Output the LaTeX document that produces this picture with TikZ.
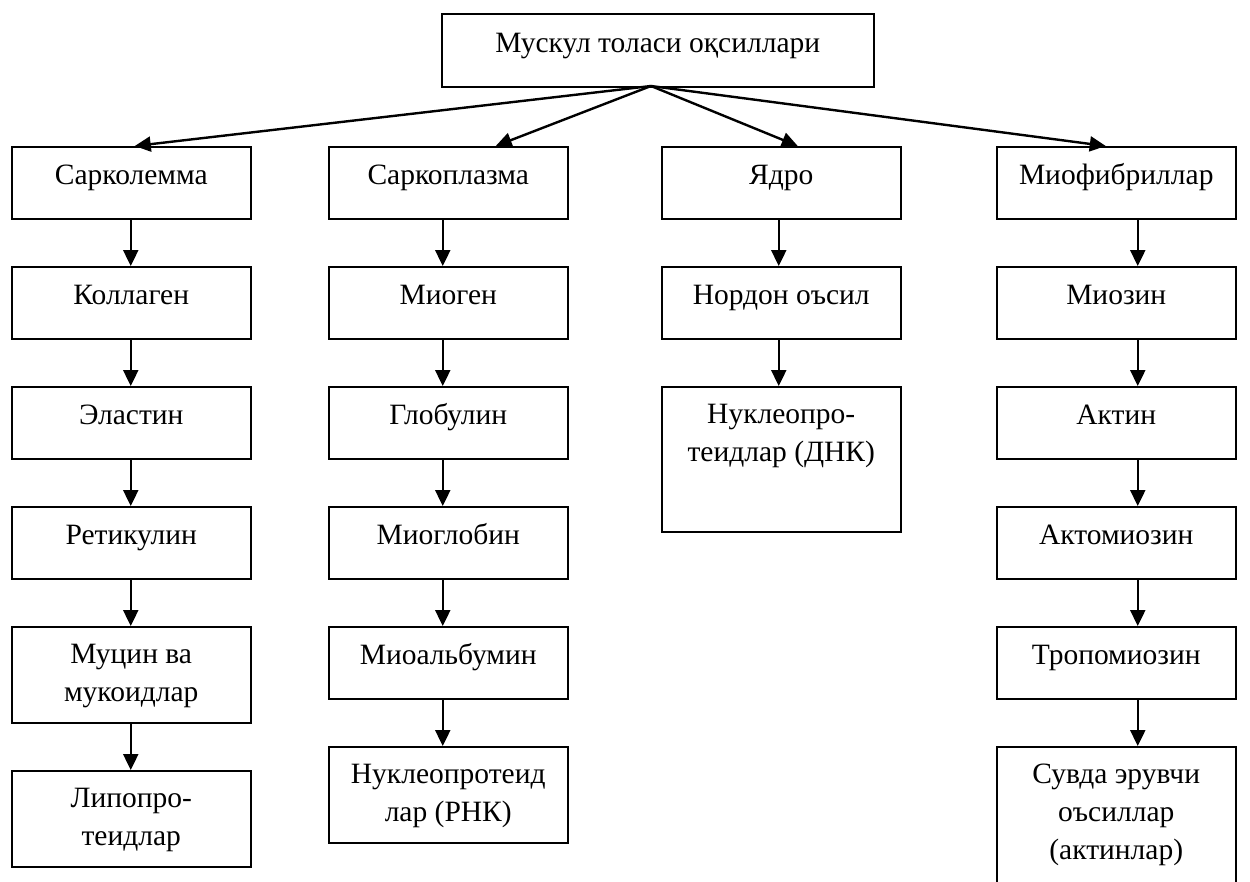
\documentclass[tikz,border=0pt]{standalone}
\usepackage{fontspec}
\setmainfont{Liberation Serif}
\usetikzlibrary{arrows.meta,calc}
\tikzset{
  boxst/.style={draw, line width=1.5pt, rectangle, inner sep=0pt, minimum width=239pt},
  txtst/.style={inner sep=0pt, align=center, font=\fontsize{29.5}{38}\selectfont},
  oneline/.style={text height=20pt},
  multiline/.style={},
  arr/.style={line width=2.4pt, -{Triangle[length=16pt,width=15pt]}},
}
\newcommand{\mybox}[6]{%
  \node[boxst, minimum height=#4pt, anchor=north west] (#1) at (#2,#3) {};
  \node[txtst, #5, anchor=north] (#1t) at ([yshift=-18pt]#1.north) {#6};
}
\begin{document}
\begin{tikzpicture}[x=1pt,y=-1pt]
\useasboundingbox (0,0) rectangle (1250,881);
% top
\node[boxst, minimum width=432pt, minimum height=73pt, anchor=north west] (top) at (441,13) {};
\node[txtst, oneline, anchor=north] (topt) at ([yshift=-19pt]top.north) {Мускул толаси оқсиллари};
% column 1
\mybox{a1}{11}{146}{72}{oneline}{Сарколемма}
\mybox{a2}{11}{266}{72}{oneline}{Коллаген}
\mybox{a3}{11}{386}{72}{oneline}{Эластин}
\mybox{a4}{11}{506}{72}{oneline}{Ретикулин}
\mybox{a5}{11}{626}{96}{multiline}{Муцин ва\\мукоидлар}
\mybox{a6}{11}{770}{96}{multiline}{Липопро-\\теидлар}
% column 2
\mybox{b1}{328}{146}{72}{oneline}{Саркоплазма}
\mybox{b2}{328}{266}{72}{oneline}{Миоген}
\mybox{b3}{328}{386}{72}{oneline}{Глобулин}
\mybox{b4}{328}{506}{72}{oneline}{Миоглобин}
\mybox{b5}{328}{626}{72}{oneline}{Миоальбумин}
\mybox{b6}{328}{746}{96}{multiline}{Нуклеопротеид\\лар (РНК)}
% column 3
\mybox{c1}{661}{146}{72}{oneline}{Ядро}
\mybox{c2}{661}{266}{72}{oneline}{Нордон оъсил}
\mybox{c3}{661}{386}{145}{multiline}{Нуклеопро-\\теидлар (ДНК)}
% column 4
\mybox{d1}{996}{146}{72}{oneline}{Миофибриллар}
\mybox{d2}{996}{266}{72}{oneline}{Миозин}
\mybox{d3}{996}{386}{72}{oneline}{Актин}
\mybox{d4}{996}{506}{72}{oneline}{Актомиозин}
\mybox{d5}{996}{626}{72}{oneline}{Тропомиозин}
\mybox{d6}{996}{746}{136}{multiline}{Сувда эрувчи\\оъсиллар\\(актинлар)}
% diagonal arrows
\coordinate (src) at (651,86);
\draw[arr] (src) -- ([xshift=3.5pt]a1.north);
\draw[arr] (src) -- ([xshift=47.5pt]b1.north);
\draw[arr] (src) -- ([xshift=16.5pt]c1.north);
\draw[arr] (src) -- ([xshift=-10.5pt]d1.north);
% vertical arrows
\foreach \p/\q in {a1/a2,a2/a3,a3/a4,a4/a5,a5/a6}
  \draw[arr] ([xshift=-0.5pt]\p.south) -- ([xshift=-0.5pt]\q.north);
\foreach \p/\q in {b1/b2,b2/b3,b3/b4,b4/b5,b5/b6}
  \draw[arr] ([xshift=-5.5pt]\p.south) -- ([xshift=-5.5pt]\q.north);
\foreach \p/\q in {c1/c2,c2/c3}
  \draw[arr] ([xshift=-2.5pt]\p.south) -- ([xshift=-2.5pt]\q.north);
\foreach \p/\q in {d1/d2,d2/d3,d3/d4,d4/d5,d5/d6}
  \draw[arr] ([xshift=21.5pt]\p.south) -- ([xshift=21.5pt]\q.north);
\end{tikzpicture}
\end{document}
